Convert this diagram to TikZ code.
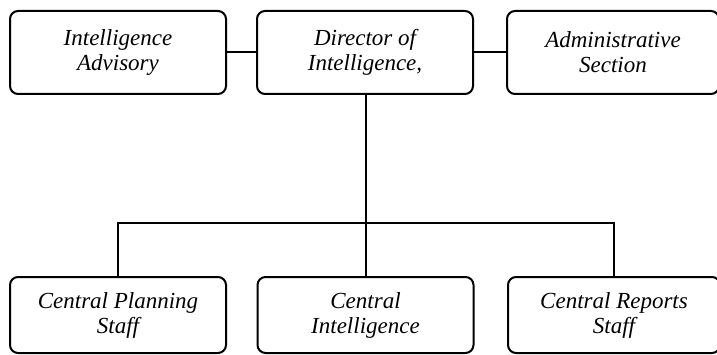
\documentclass[tikz,border=0pt]{standalone}
\usepackage{fontspec}
\setmainfont{Liberation Serif}
\begin{document}
\begin{tikzpicture}[x=1pt,y=-1pt,
  orgbox/.style={draw, line width=2pt, rounded corners=8pt, align=center,
    font=\fontsize{23}{25}\selectfont\itshape, inner sep=0pt},
  topbox/.style={orgbox, minimum height=83pt},
  botbox/.style={orgbox, minimum height=76pt},
  link/.style={line width=2pt}]
\useasboundingbox (0,0) rectangle (717,355);
\clip (0,0) rectangle (717,355);
\node[topbox, minimum width=216pt] (adv) at (118,52.5) {Intelligence\\Advisory};
\node[topbox, minimum width=216pt] (dir) at (365,52.5) {Director of\\Intelligence,};
\node[topbox, minimum width=212pt] (adm) at (613,52.5) {Administrative\\Section};
\node[botbox, minimum width=216pt] (cps) at (118,315) {Central Planning\\Staff};
\node[botbox, minimum width=216pt] (ci) at (365.5,315) {Central\\Intelligence};
\node[botbox, minimum width=212pt] (crs) at (614,315) {Central Reports\\Staff};
\coordinate (hub) at (366,223);
\draw[link] (adv.east) -- (dir.west);
\draw[link] (dir.east) -- (adm.west);
\draw[link] (dir.south -| hub) -- (hub);
\draw[link] (hub) -- (ci.north -| hub);
\draw[link] (cps.north) -- (cps.north |- hub) -- (crs.north |- hub) -- (crs.north);
\end{tikzpicture}
\end{document}
